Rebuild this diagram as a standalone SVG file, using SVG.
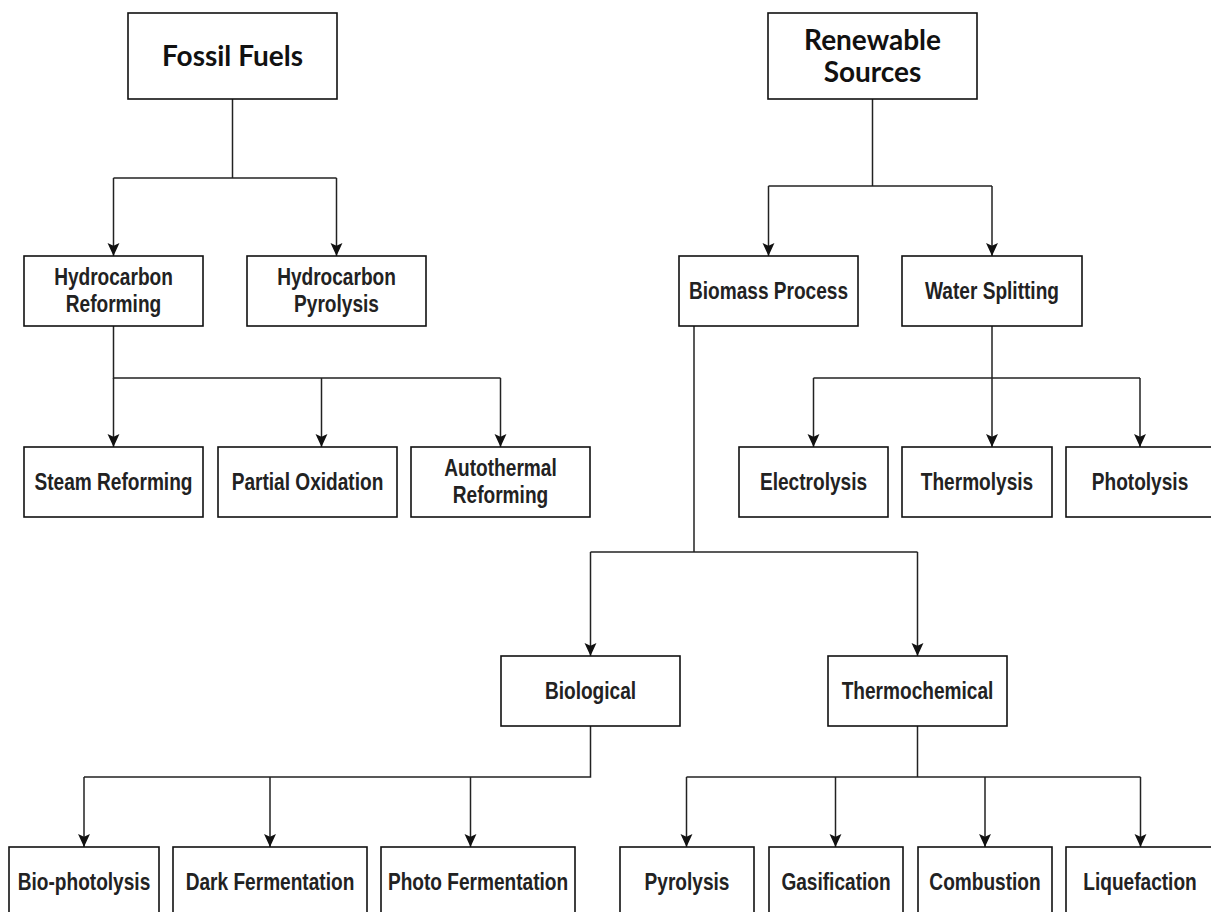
<svg xmlns="http://www.w3.org/2000/svg" width="1211" height="912" viewBox="0 0 1211 912">
<style>
.box{fill:#fff;stroke:#111;stroke-width:1.6}
.c{fill:none;stroke:#222;stroke-width:1.5}
.t{font-family:"Liberation Sans",Arial,sans-serif;font-weight:bold;font-size:23px;fill:#222;text-anchor:middle}
.h{font-family:Lato,"Open Sans",sans-serif;font-weight:bold;font-size:28px;fill:#111;text-anchor:middle}
</style>
<defs>
<marker id="ar" viewBox="0 0 12 12" refX="12" refY="6" markerWidth="13" markerHeight="13" markerUnits="userSpaceOnUse" orient="auto">
<path d="M0,0.5 L12,6 L0,11.5 L2.5,6 z" fill="#111"/>
</marker>
</defs>
<rect width="1211" height="912" fill="#fff"/>
<g id="connectors">
<path class="c" d="M232.5,99 V178"/>
<path class="c" d="M113.5,178 H336.5"/>
<path class="c" marker-end="url(#ar)" d="M113.5,178 V256"/>
<path class="c" marker-end="url(#ar)" d="M336.5,178 V256"/>
<path class="c" d="M113.5,326 V378 H500.5"/>
<path class="c" marker-end="url(#ar)" d="M113.5,378 V447"/>
<path class="c" marker-end="url(#ar)" d="M321.5,378 V447"/>
<path class="c" marker-end="url(#ar)" d="M500.5,378 V447"/>
<path class="c" d="M872.5,99 V186"/>
<path class="c" d="M768.5,186 H992"/>
<path class="c" marker-end="url(#ar)" d="M768.5,186 V256"/>
<path class="c" marker-end="url(#ar)" d="M992,186 V256"/>
<path class="c" marker-end="url(#ar)" d="M992,326 V447"/>
<path class="c" d="M813.5,378 H1140"/>
<path class="c" marker-end="url(#ar)" d="M813.5,378 V447"/>
<path class="c" marker-end="url(#ar)" d="M1140,378 V447"/>
<path class="c" d="M694,326 V552"/>
<path class="c" d="M590.5,552 H917.5"/>
<path class="c" marker-end="url(#ar)" d="M590.5,552 V656"/>
<path class="c" marker-end="url(#ar)" d="M917.5,552 V656"/>
<path class="c" d="M590.5,726 V777 H84"/>
<path class="c" marker-end="url(#ar)" d="M84,777 V847"/>
<path class="c" marker-end="url(#ar)" d="M270,777 V847"/>
<path class="c" marker-end="url(#ar)" d="M470.5,777 V847"/>
<path class="c" d="M917.5,726 V777"/>
<path class="c" d="M686.5,777 H1140.5"/>
<path class="c" marker-end="url(#ar)" d="M686.5,777 V847"/>
<path class="c" marker-end="url(#ar)" d="M835.5,777 V847"/>
<path class="c" marker-end="url(#ar)" d="M985,777 V847"/>
<path class="c" marker-end="url(#ar)" d="M1140.5,777 V847"/>
</g>
<g id="fossil"><rect class="box" x="128" y="13" width="209" height="86"/><text class="h" x="232.5" y="66">Fossil Fuels</text></g>
<g id="renewable"><rect class="box" x="768" y="13" width="209" height="86"/><text class="h" x="872.5" y="50">Renewable</text><text class="h" x="872.5" y="82">Sources</text></g>
<g id="hc-reforming"><rect class="box" x="24" y="256" width="179" height="70"/><text class="t" transform="translate(113.5,285) scale(0.83,1)">Hydrocarbon</text><text class="t" transform="translate(113.5,312) scale(0.83,1)">Reforming</text></g>
<g id="hc-pyrolysis"><rect class="box" x="247" y="256" width="179" height="70"/><text class="t" transform="translate(336.5,285) scale(0.83,1)">Hydrocarbon</text><text class="t" transform="translate(336.5,312) scale(0.83,1)">Pyrolysis</text></g>
<g id="biomass"><rect class="box" x="679" y="256" width="179" height="70"/><text class="t" transform="translate(768.5,299) scale(0.83,1)">Biomass Process</text></g>
<g id="water"><rect class="box" x="902" y="256" width="180" height="70"/><text class="t" transform="translate(992,299) scale(0.83,1)">Water Splitting</text></g>
<g id="steam"><rect class="box" x="24" y="447" width="179" height="70"/><text class="t" transform="translate(113.5,490) scale(0.83,1)">Steam Reforming</text></g>
<g id="partial"><rect class="box" x="218" y="447" width="179" height="70"/><text class="t" transform="translate(307.5,490) scale(0.83,1)">Partial Oxidation</text></g>
<g id="autothermal"><rect class="box" x="411" y="447" width="179" height="70"/><text class="t" transform="translate(500.5,476) scale(0.83,1)">Autothermal</text><text class="t" transform="translate(500.5,503) scale(0.83,1)">Reforming</text></g>
<g id="electrolysis"><rect class="box" x="739" y="447" width="149" height="70"/><text class="t" transform="translate(813.5,490) scale(0.83,1)">Electrolysis</text></g>
<g id="thermolysis"><rect class="box" x="902" y="447" width="150" height="70"/><text class="t" transform="translate(977,490) scale(0.83,1)">Thermolysis</text></g>
<g id="photolysis"><rect class="box" x="1066" y="447" width="150" height="70"/><text class="t" transform="translate(1140,490) scale(0.83,1)">Photolysis</text></g>
<g id="biological"><rect class="box" x="501" y="656" width="179" height="70"/><text class="t" transform="translate(590.5,699) scale(0.83,1)">Biological</text></g>
<g id="thermochemical"><rect class="box" x="828" y="656" width="179" height="70"/><text class="t" transform="translate(917.5,699) scale(0.83,1)">Thermochemical</text></g>
<g id="bio-photolysis"><rect class="box" x="9" y="847" width="150" height="70"/><text class="t" transform="translate(84,890) scale(0.83,1)">Bio-photolysis</text></g>
<g id="dark"><rect class="box" x="173" y="847" width="194" height="70"/><text class="t" transform="translate(270,890) scale(0.83,1)">Dark Fermentation</text></g>
<g id="photo-ferm"><rect class="box" x="381" y="847" width="194" height="70"/><text class="t" transform="translate(478,890) scale(0.83,1)">Photo Fermentation</text></g>
<g id="pyrolysis"><rect class="box" x="620" y="847" width="134" height="70"/><text class="t" transform="translate(687,890) scale(0.83,1)">Pyrolysis</text></g>
<g id="gasification"><rect class="box" x="769" y="847" width="134" height="70"/><text class="t" transform="translate(836,890) scale(0.83,1)">Gasification</text></g>
<g id="combustion"><rect class="box" x="918" y="847" width="134" height="70"/><text class="t" transform="translate(985,890) scale(0.83,1)">Combustion</text></g>
<g id="liquefaction"><rect class="box" x="1066" y="847" width="150" height="70"/><text class="t" transform="translate(1140,890) scale(0.83,1)">Liquefaction</text></g>
</svg>
